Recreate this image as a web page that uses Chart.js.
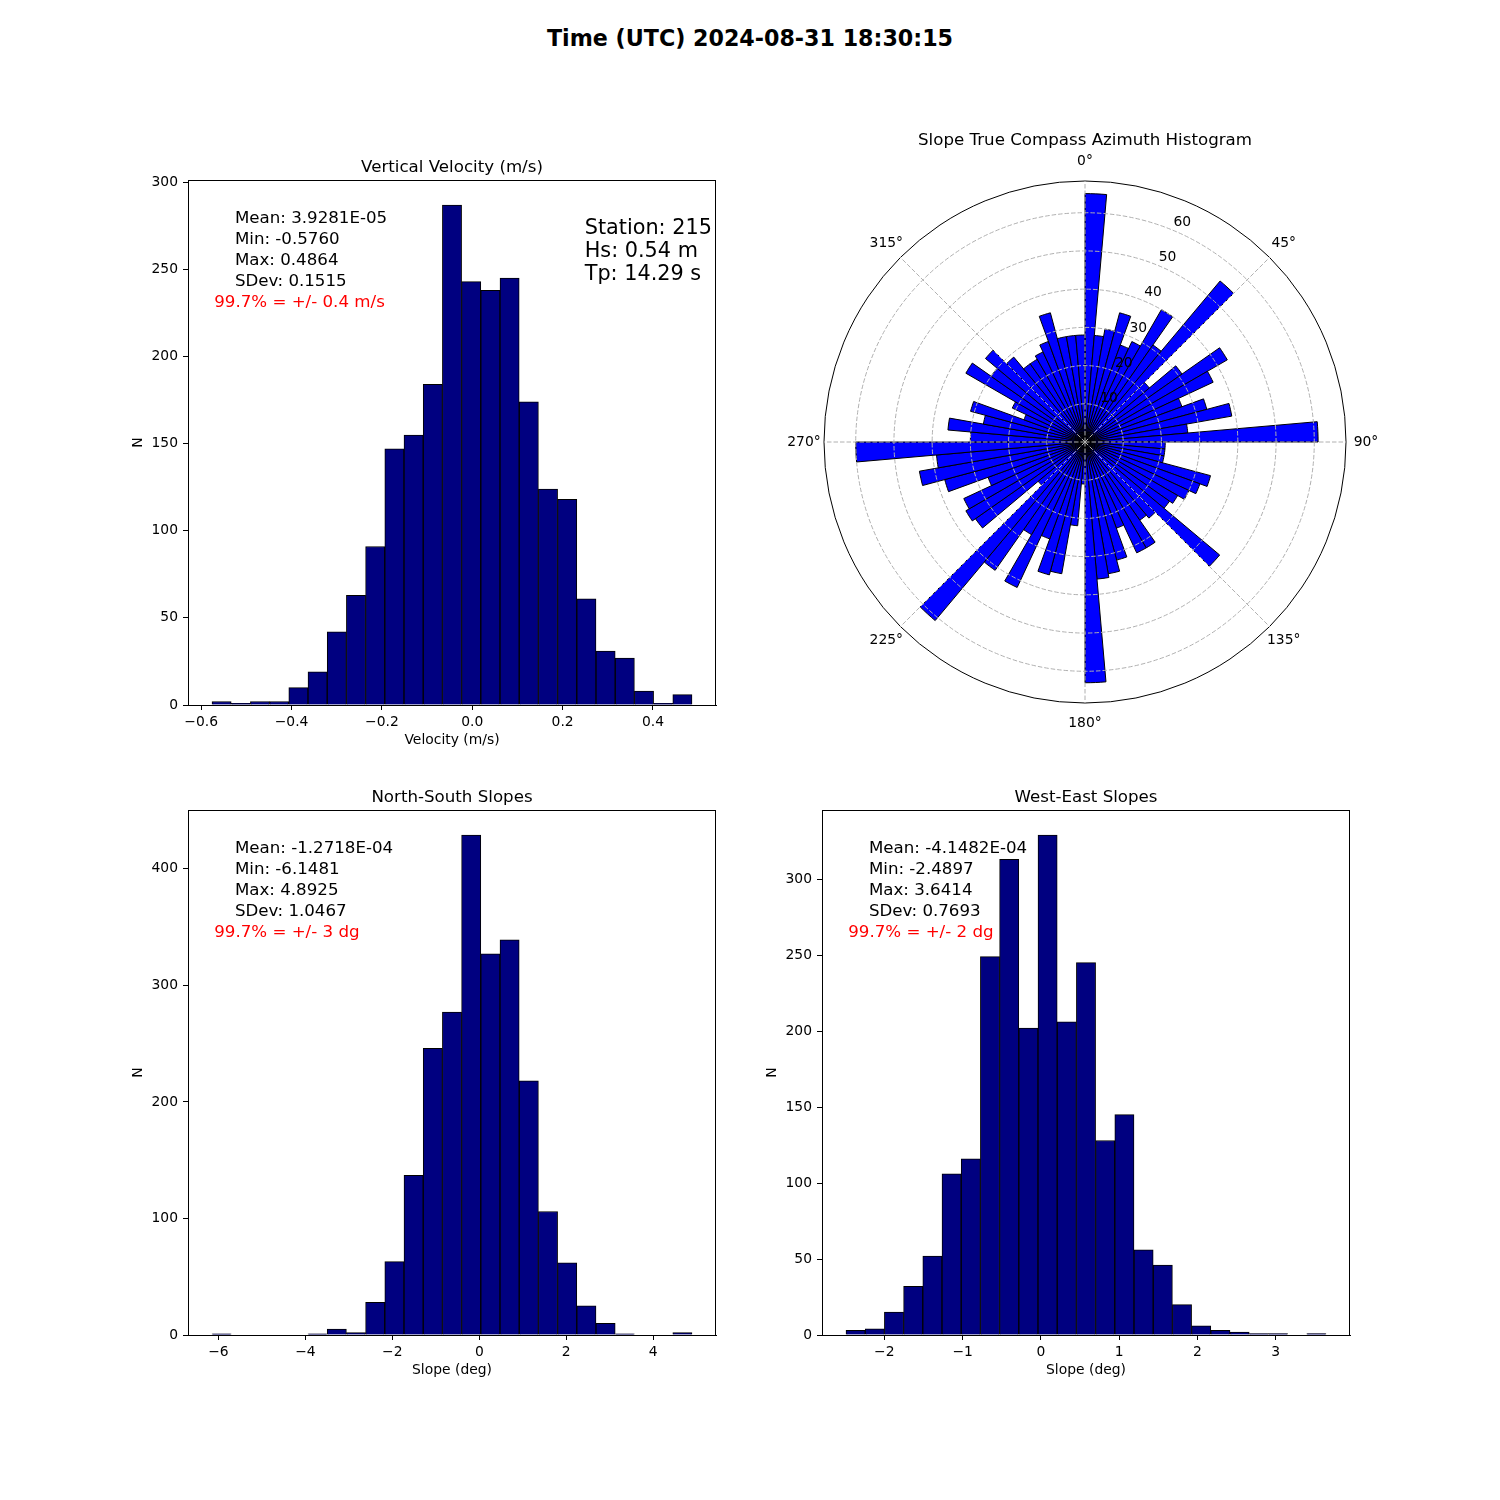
<!DOCTYPE html>
<html><head><meta charset="utf-8">
<script src="https://cdn.jsdelivr.net/npm/chart.js@4.4.1/dist/chart.umd.min.js"></script>
<style>
html,body{margin:0;padding:0;background:#fff;}
body{width:1500px;height:1500px;position:relative;overflow:hidden;font-family:'DejaVu Sans',sans-serif;}
canvas{position:absolute;}
#suptitle{position:absolute;left:0;width:1500px;top:24px;text-align:center;font-weight:bold;font-size:22.2px;line-height:28px;color:#000;}
</style></head><body>
<div id="suptitle"></div>
<canvas id="c1" width="636" height="615" style="left:100px;top:140px;width:636px;height:615px"></canvas>
<canvas id="c2" width="640" height="640" style="left:765px;top:122px;width:640px;height:640px"></canvas>
<canvas id="c3" width="636" height="615" style="left:100px;top:770px;width:636px;height:615px"></canvas>
<canvas id="c4" width="636" height="615" style="left:734px;top:770px;width:636px;height:615px"></canvas>
<script>
// ---------------- data ----------------
const SUPTITLE = 'Time (UTC) 2024-08-31 18:30:15';

// Vertical velocity histogram (25 bins between min and max)
const VEL_TITLE = 'Vertical Velocity (m/s)';
const VEL_XLABEL = 'Velocity (m/s)';
const VEL_MIN = -0.5760;
const VEL_MAX = 0.4864;
const VEL_COUNTS = [2, 1, 2, 2, 10, 19, 42, 63, 91, 147, 155, 184, 287, 243, 238, 245, 174, 124, 118, 61, 31, 27, 8, 1, 6];
const VEL_X_TICKS = [-0.6, -0.4, -0.2, 0.0, 0.2, 0.4];
const VEL_Y_TICKS = [0, 50, 100, 150, 200, 250, 300];
const VEL_STATS = ['Mean: 3.9281E-05', 'Min: -0.5760', 'Max: 0.4864', 'SDev: 0.1515'];
const VEL_CONF = '99.7% = +/- 0.4 m/s';
const STATION_INFO = ['Station: 215', 'Hs: 0.54 m', 'Tp: 14.29 s'];

// North-South slopes histogram
const NS_TITLE = 'North-South Slopes';
const NS_XLABEL = 'Slope (deg)';
const NS_MIN = -6.1481;
const NS_MAX = 4.8925;
const NS_COUNTS = [1, 0, 0, 0, 0, 1, 5, 2, 28, 63, 137, 246, 277, 429, 327, 339, 218, 106, 62, 25, 10, 1, 0, 0, 2];
const NS_X_TICKS = [-6, -4, -2, 0, 2, 4];
const NS_Y_TICKS = [0, 100, 200, 300, 400];
const NS_STATS = ['Mean: -1.2718E-04', 'Min: -6.1481', 'Max: 4.8925', 'SDev: 1.0467'];
const NS_CONF = '99.7% = +/- 3 dg';

// West-East slopes histogram
const WE_TITLE = 'West-East Slopes';
const WE_XLABEL = 'Slope (deg)';
const WE_MIN = -2.4897;
const WE_MAX = 3.6414;
const WE_COUNTS = [3, 4, 15, 32, 52, 106, 116, 249, 313, 202, 329, 206, 245, 128, 145, 56, 46, 20, 6, 3, 2, 1, 1, 0, 1];
const WE_X_TICKS = [-2, -1, 0, 1, 2, 3];
const WE_Y_TICKS = [0, 50, 100, 150, 200, 250, 300];
const WE_STATS = ['Mean: -4.1482E-04', 'Min: -2.4897', 'Max: 3.6414', 'SDev: 0.7693'];
const WE_CONF = '99.7% = +/- 2 dg';

// Azimuth rose (72 bins of 5 degrees, clockwise from North)
const AZ_TITLE = 'Slope True Compass Azimuth Histogram';
const AZ_BIN_START = [0,5,10,15,20,25,30,35,40,45,50,55,60,65,70,75,80,85,
  90,95,100,105,110,115,120,125,130,135,140,145,150,155,160,165,170,175,
  180,185,190,195,200,205,210,215,220,225,230,235,240,245,250,255,260,265,
  270,275,280,285,290,295,300,305,310,315,320,325,330,335,340,345,350,355];
const AZ_COUNTS = [
  65, 28, 30, 35, 27, 29, 40, 31, 55, 22, 31, 43, 37, 27, 33, 39, 27, 61,
  21, 21, 21, 34, 32, 30, 28, 27, 46, 26, 25, 32, 32, 24, 32, 35, 36, 63,
  11, 22, 35, 36, 27, 42, 28, 41, 61, 16, 35, 36, 35, 27, 38, 44, 39, 60,
  30, 36, 27, 31, 17, 21, 36, 30, 34, 29, 25, 25, 26, 28, 35, 28, 28, 28];
const AZ_THETA_TICKS = [0, 45, 90, 135, 180, 225, 270, 315];
const AZ_THETA_LABELS = ['0°', '45°', '90°', '135°', '180°', '225°', '270°', '315°'];
const AZ_R_TICKS = [10, 20, 30, 40, 50, 60];
const AZ_R_MAX = 68.3;
const AZ_R_LABEL_ANGLE = 22.5;

// ---------------- setup ----------------
document.getElementById('suptitle').textContent = SUPTITLE;
Chart.defaults.font.family = "'DejaVu Sans', sans-serif";
Chart.defaults.font.size = 13.89;
Chart.defaults.color = '#000';

const FONT = "'DejaVu Sans', sans-serif";

const axesText = {
  id: 'axesText',
  afterDraw(chart, args, opts) {
    const {ctx, chartArea: a} = chart;
    const w = a.right - a.left, h = a.bottom - a.top;
    ctx.save();
    ctx.strokeStyle = '#000';
    ctx.lineWidth = 1;
    ctx.strokeRect(Math.round(a.left) + 0.5, Math.round(a.top) + 0.5, Math.round(w) - 1, Math.round(h));
    ctx.textBaseline = 'middle';
    ctx.textAlign = 'left';
    (opts.items || []).forEach(it => {
      ctx.font = it.size + 'px ' + FONT;
      ctx.fillStyle = it.color || '#000';
      ctx.fillText(it.text, a.left + it.fx * w, a.top + it.fy * h);
    });
    ctx.restore();
  }
};

function fmtTick(v, dec) {
  let s = Number(v).toFixed(dec);
  if (Number(s) === 0) s = (0).toFixed(dec);
  return s.replace('-', '\u2212');
}

function histPoints(counts, lo, hi) {
  const w = (hi - lo) / counts.length;
  return counts.map((c, i) => ({x: lo + (i + 0.5) * w, y: c}));
}

function statItems(stats, conf, extra) {
  const items = [];
  const h = 525;
  const ys = [38.8, 59.6, 80.4, 101.2];
  stats.forEach((t, i) => items.push({text: t, fx: 0.0888, fy: ys[i] / h, size: 16.67}));
  items.push({text: conf, fx: 0.0496, fy: 122.2 / h, size: 16.67, color: '#ff0000'});
  if (extra) {
    const ys2 = [48.5, 71.4, 94.3];
    extra.forEach((t, i) => items.push({text: t, fx: 0.7513, fy: ys2[i] / h, size: 20.8}));
  }
  return items;
}

function makeHist(id, cfg) {
  const span = cfg.hi - cfg.lo;
  const tickFont = {size: 13.89};
  new Chart(document.getElementById(id), {
    type: 'bar',
    data: {datasets: [{
      data: histPoints(cfg.counts, cfg.lo, cfg.hi),
      backgroundColor: '#000080', borderColor: '#000000', borderWidth: 1,
      barPercentage: 1, categoryPercentage: 1
    }]},
    options: {
      responsive: false, animation: false,
      layout: {padding: {left: 0, right: 20, top: 0, bottom: 0}},
      plugins: {
        legend: {display: false}, tooltip: {enabled: false},
        title: {display: true, fullSize: false, text: cfg.title, color: '#000', font: {size: 16.67, weight: 'normal'}, padding: {top: 18, bottom: 2}},
        axesText: {items: statItems(cfg.stats, cfg.conf, cfg.extra)}
      },
      scales: {
        x: {
          type: 'linear', min: cfg.lo - 0.05 * span, max: cfg.hi + 0.05 * span, offset: false,
          grid: {display: true, drawOnChartArea: false, drawTicks: true, tickLength: 5, color: '#000', tickColor: '#000', offset: false},
          border: {display: true, color: '#000', width: 1},
          ticks: {padding: 4, color: '#000', font: tickFont, maxRotation: 0, autoSkip: false,
                  callback: v => fmtTick(v, cfg.xDec)},
          afterBuildTicks: s => { s.ticks = cfg.xTicks.map(v => ({value: v})); },
          title: {display: true, text: cfg.xLabel, color: '#000', font: {size: 13.89}, padding: {top: 0, bottom: 6.66}},
          afterFit: s => { s.height = 50; }
        },
        y: {
          min: 0, max: Math.max(...cfg.counts) * 1.05,
          grid: {display: true, drawOnChartArea: false, drawTicks: true, tickLength: 5, color: '#000', tickColor: '#000'},
          border: {display: true, color: '#000', width: 1},
          ticks: {padding: 5, color: '#000', font: tickFont, autoSkip: false,
                  callback: v => fmtTick(v, 0)},
          afterBuildTicks: s => { s.ticks = cfg.yTicks.map(v => ({value: v})); },
          title: {display: true, text: 'N', color: '#000', font: {size: 13.89}, padding: {top: 29.66, bottom: 0}},
          afterFit: s => { s.width = 88; }
        }
      }
    },
    plugins: [axesText]
  });
}

makeHist('c1', {title: VEL_TITLE, xLabel: VEL_XLABEL, lo: VEL_MIN, hi: VEL_MAX, counts: VEL_COUNTS,
  xTicks: VEL_X_TICKS, xDec: 1, yTicks: VEL_Y_TICKS, stats: VEL_STATS, conf: VEL_CONF, extra: STATION_INFO});
makeHist('c3', {title: NS_TITLE, xLabel: NS_XLABEL, lo: NS_MIN, hi: NS_MAX, counts: NS_COUNTS,
  xTicks: NS_X_TICKS, xDec: 0, yTicks: NS_Y_TICKS, stats: NS_STATS, conf: NS_CONF});
makeHist('c4', {title: WE_TITLE, xLabel: WE_XLABEL, lo: WE_MIN, hi: WE_MAX, counts: WE_COUNTS,
  xTicks: WE_X_TICKS, xDec: 0, yTicks: WE_Y_TICKS, stats: WE_STATS, conf: WE_CONF});

// ---------------- polar rose ----------------
const AZ_BIN_WIDTH = 360 / AZ_COUNTS.length;
const polarLabels = {
  id: 'polarLabels',
  afterDraw(chart) {
    const s = chart.scales.r, ctx = chart.ctx;
    ctx.save();
    ctx.fillStyle = '#000';
    ctx.font = '13.89px ' + FONT;
    ctx.textAlign = 'center';
    ctx.textBaseline = 'middle';
    AZ_THETA_TICKS.forEach((deg, i) => {
      const p = s.getPointPosition(deg / AZ_BIN_WIDTH, s.drawingArea + 20);
      ctx.fillText(AZ_THETA_LABELS[i], p.x, p.y);
    });
    AZ_R_TICKS.forEach(v => {
      const p = s.getPointPosition(AZ_R_LABEL_ANGLE / AZ_BIN_WIDTH, s.getDistanceFromCenterForValue(v));
      ctx.fillText(String(v), p.x + 9.5, p.y - 8);
    });
    ctx.restore();
  }
};

const isOuter = c => c.tick && c.tick.value >= AZ_R_MAX - 1e-9;
new Chart(document.getElementById('c2'), {
  type: 'polarArea',
  data: {labels: AZ_BIN_START, datasets: [{data: AZ_COUNTS, backgroundColor: '#0000ff', borderColor: '#000000', borderWidth: 1}]},
  options: {
    responsive: false, animation: false,
    layout: {padding: {top: 0, left: 58, right: 58, bottom: 58}},
    plugins: {
      legend: {display: false}, tooltip: {enabled: false},
      title: {display: true, text: AZ_TITLE, color: '#000', font: {size: 16.67, weight: 'normal'}, padding: {top: 9, bottom: 29}}
    },
    scales: {
      r: {
        min: 0, max: AZ_R_MAX, startAngle: 0,
        ticks: {display: false},
        afterBuildTicks: s => { s.ticks = [0].concat(AZ_R_TICKS, [AZ_R_MAX]).map(v => ({value: v})); },
        grid: {display: true, circular: true, z: 1, lineWidth: 1, color: c => isOuter(c) ? '#000000' : '#b0b0b0'},
        border: {dash: c => isOuter(c) ? [] : [4.5, 2]},
        angleLines: {display: true, color: '#b0b0b0', borderDash: [4.5, 2],
                     lineWidth: c => (AZ_BIN_START[c.index] % 45 === 0) ? 1 : 0},
        pointLabels: {display: false}
      }
    }
  },
  plugins: [polarLabels]
});
</script>
</body></html>
